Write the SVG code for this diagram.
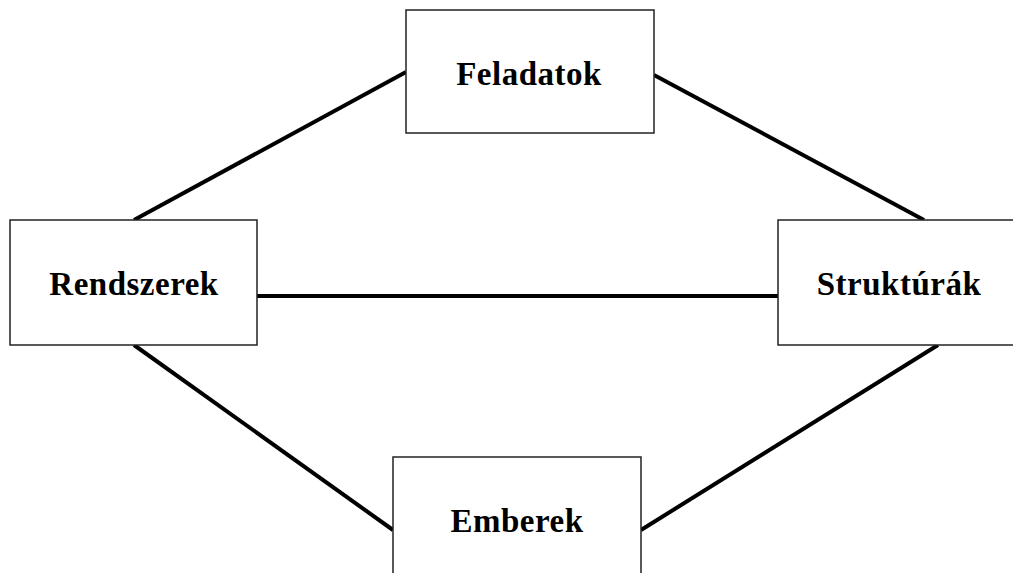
<svg xmlns="http://www.w3.org/2000/svg" width="1013" height="573" viewBox="0 0 1013 573">
  <style>
    .box { fill: #ffffff; stroke: #222222; stroke-width: 1.5; }
    .label { font-family: "Liberation Serif", "Times New Roman", serif; font-weight: bold; font-size: 33px; letter-spacing: 0.5px; fill: #000000; text-anchor: middle; }
    .link { stroke: #000000; stroke-width: 4; stroke-linecap: butt; fill: none; }
  </style>
  <rect width="1013" height="573" fill="#ffffff"/>
  <g id="connectors">
    <line class="link" x1="406" y1="72" x2="134" y2="220"/>
    <line class="link" x1="654" y1="75" x2="924" y2="220"/>
    <line class="link" x1="257" y1="296" x2="778" y2="296"/>
    <line class="link" x1="134" y1="345" x2="393" y2="530"/>
    <line class="link" x1="641" y1="530" x2="938" y2="345"/>
  </g>
  <g id="feladatok">
    <rect class="box" x="406" y="10" width="248" height="123"/>
    <text class="label" x="529" y="85">Feladatok</text>
  </g>
  <g id="rendszerek">
    <rect class="box" x="10" y="220" width="247" height="125"/>
    <text class="label" x="134" y="295">Rendszerek</text>
  </g>
  <g id="strukturak">
    <rect class="box" x="778" y="220" width="248" height="125"/>
    <text class="label" x="899" y="295">Struktúrák</text>
  </g>
  <g id="emberek">
    <rect class="box" x="393" y="457" width="248" height="125"/>
    <text class="label" x="517" y="532">Emberek</text>
  </g>
</svg>
